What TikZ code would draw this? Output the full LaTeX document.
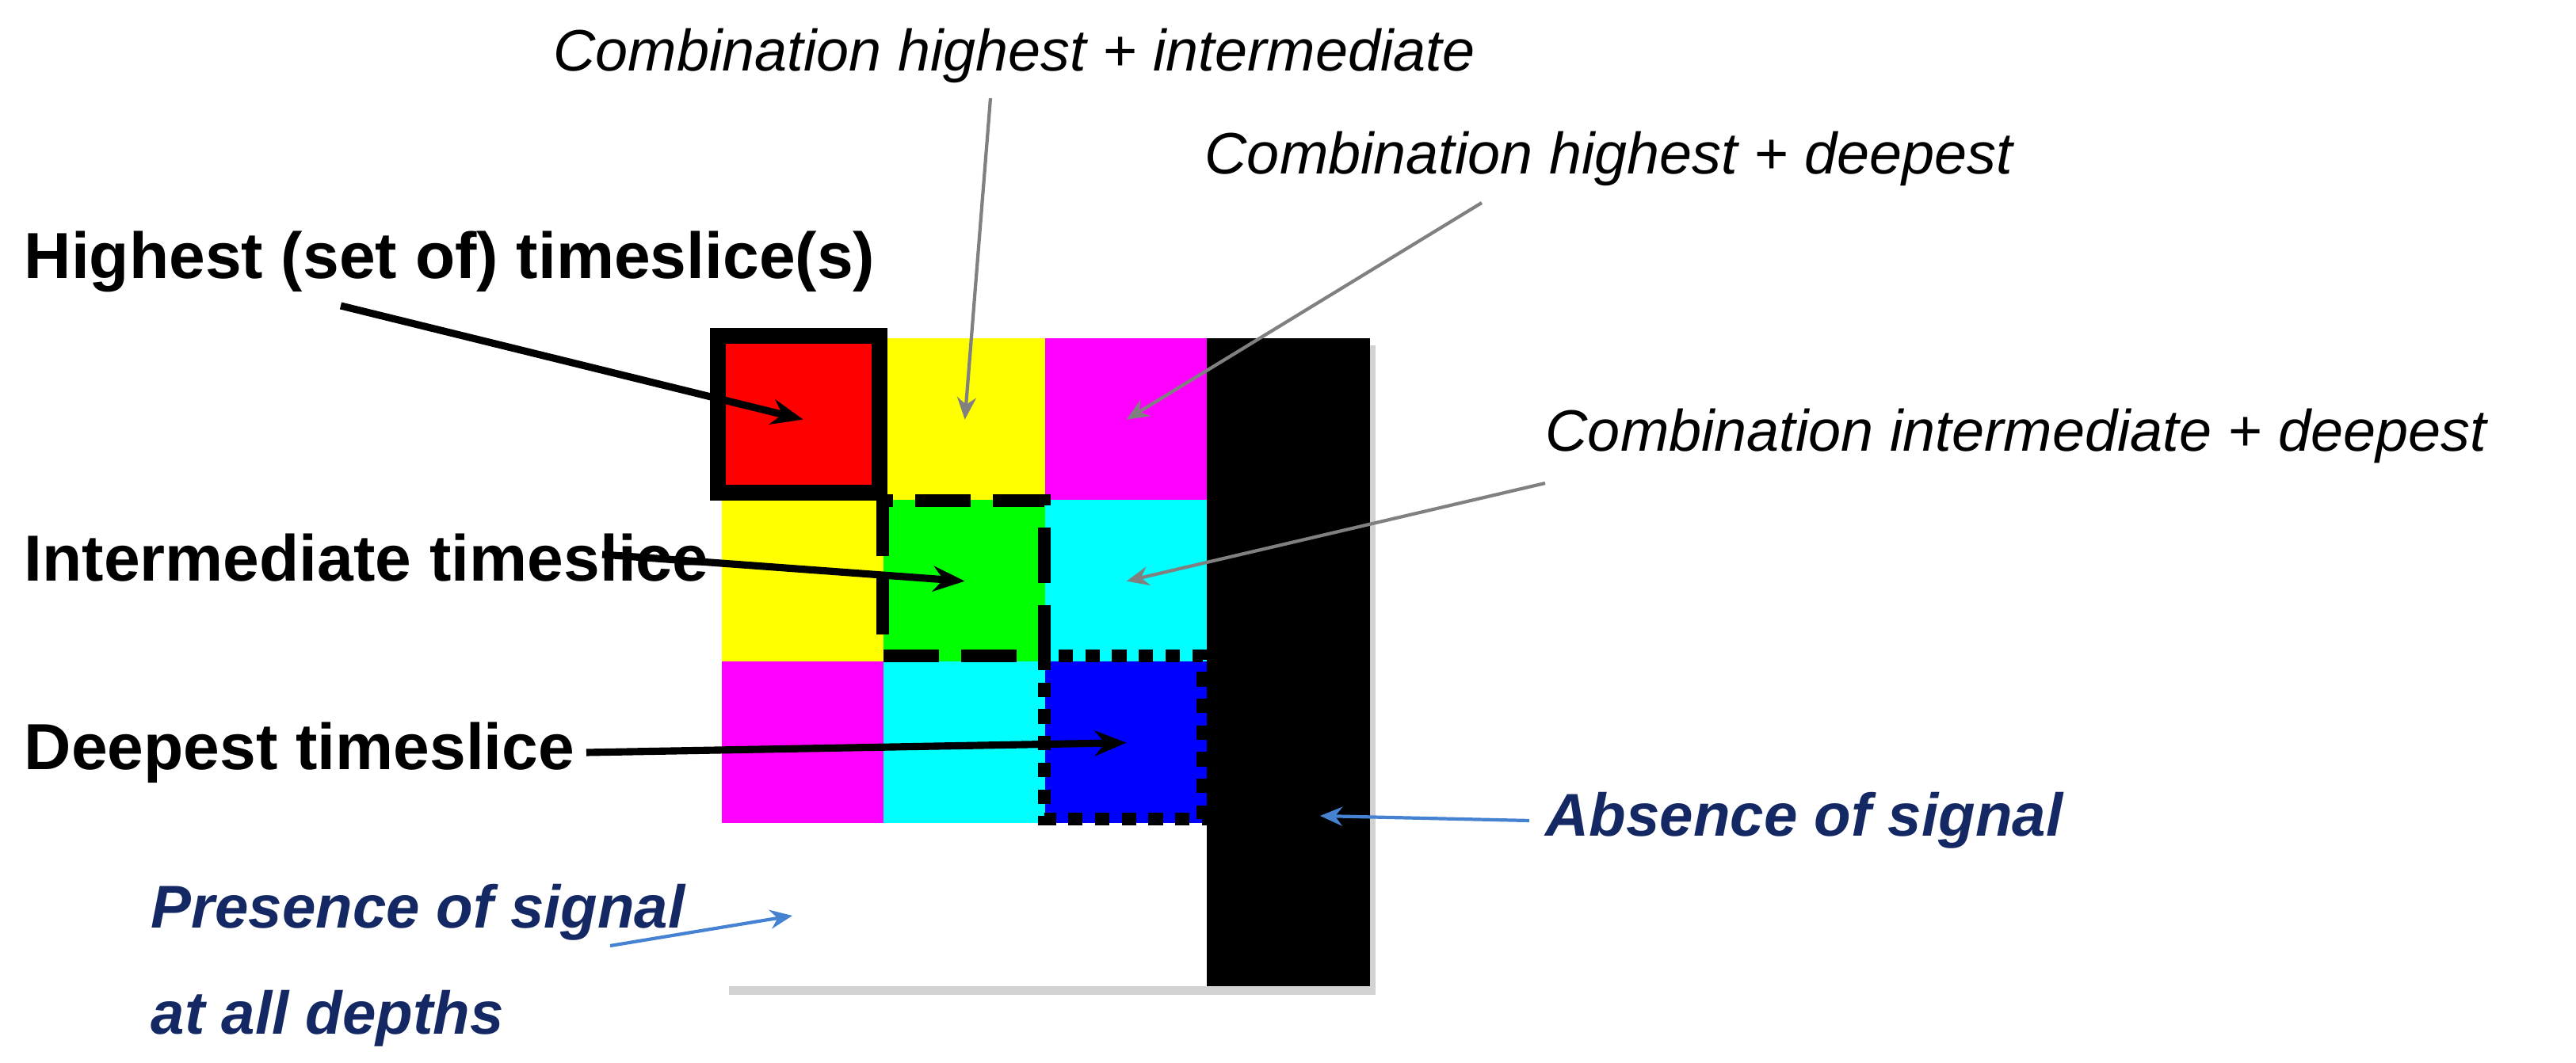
\documentclass[tikz,border=0pt]{standalone}
\usepackage{fontspec}
\setmainfont{Liberation Sans}
\usetikzlibrary{arrows.meta}
\definecolor{navy}{RGB}{20,40,100}
\definecolor{lblue}{RGB}{70,130,210}
\definecolor{cmag}{RGB}{255,0,255}
\definecolor{ccyan}{RGB}{0,255,255}
\definecolor{cyel}{RGB}{255,255,0}
\definecolor{cgreen}{RGB}{0,255,0}
\definecolor{cblue}{RGB}{0,0,255}
\definecolor{cred}{RGB}{255,0,0}
\begin{document}
\begin{tikzpicture}[x=0.02cm,y=-0.02cm,
  cell/.style={draw=none,minimum width=2.06cm,minimum height=2.06cm,inner sep=0,anchor=north west},
  blab/.style={font=\bfseries\fontsize{23.4}{28}\selectfont,anchor=west,inner sep=0},
  glab/.style={font=\itshape\fontsize{21}{26}\selectfont,inner sep=0},
  nlab/.style={font=\bfseries\itshape\fontsize{21.7}{26}\selectfont,text=navy,inner sep=0,align=left},
  barr/.style={-{Stealth[length=0.4cm,width=0.32cm]},line width=2.6pt},
  garr/.style={-{Stealth[length=0.28cm,width=0.24cm]},gray,line width=1.2pt},
  narr/.style={-{Stealth[length=0.28cm,width=0.24cm]},lblue,line width=1.2pt}]
\useasboundingbox (0,0) rectangle (1625.5,671);
\fill[gray!35] (460,218) rectangle (868,628);
\node[cell,fill=cred] (r11) at (455,213) {};
\node[cell,fill=cyel] (r12) at (557,213) {};
\node[cell,fill=cmag] (r13) at (659,213) {};
\node[cell,fill=cyel] (r21) at (455,315) {};
\node[cell,fill=cgreen] (r22) at (557,315) {};
\node[cell,fill=ccyan] (r23) at (659,315) {};
\node[cell,fill=cmag] (r31) at (455,417) {};
\node[cell,fill=ccyan] (r32) at (557,417) {};
\node[cell,fill=cblue] (r33) at (659,417) {};
\node[cell,fill=white,minimum width=6.14cm] (r41) at (455,519) {};
\node[cell,fill=black,minimum height=8.18cm] (blk) at (761,213) {};
\draw[line width=5.6pt] (453,212) rectangle (555,311);
\draw[line width=4.6pt,dash pattern=on 20pt off 8pt] (557,316) rectangle (659,414);
\draw[line width=4.6pt,dash pattern=on 5.2pt off 4.4pt] (659,414) rectangle (759,517);
\node[blab] (h) at (15,165) {Highest (set of) timeslice(s)};
\node[blab] (i) at (15,352) {Intermediate timeslice};
\node[blab] (d) at (15,475) {Deepest timeslice};
\coordinate (hs) at (215,193);
\coordinate (is) at (380,350);
\coordinate (ds) at (370,475);
\draw[barr] (hs) -- (r11.center);
\draw[barr] (is) -- (r22.center);
\draw[barr] (ds) -- (r33.center);
\node[glab] (c1) at (640,35) {Combination highest + intermediate};
\node[glab,anchor=west] (c2) at (760,100) {Combination highest + deepest};
\node[glab,anchor=west] (c3) at (975,275) {Combination intermediate + deepest};
\draw[garr] (625,62) -- (r12.center);
\draw[garr] (935,128) -- (r13.center);
\draw[garr] (975,305) -- (r23.center);
\node[nlab,anchor=west] (ab) at (975,518) {Absence of signal};
\node[nlab,anchor=north west,font=\bfseries\itshape\fontsize{21.7}{38}\selectfont] (pr) at (95,558) {Presence of signal\\at all depths};
\draw[narr] (965,518) -- (833,515);
\draw[narr] (385,597) -- (500,578);
\end{tikzpicture}
\end{document}
